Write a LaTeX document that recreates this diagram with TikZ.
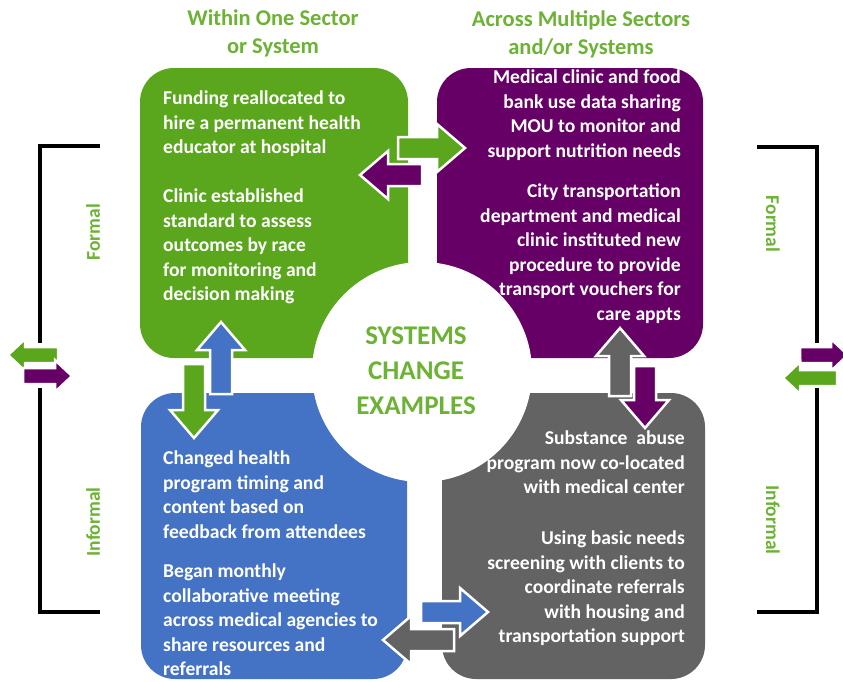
\documentclass[tikz,border=0pt]{standalone}
\usepackage{fontspec}
\setmainfont{Carlito}
\usepackage{xcolor}
\usepackage{tikz}

\definecolor{withingreen}{RGB}{90,166,29}
\definecolor{acrosspurple}{RGB}{102,0,102}
\definecolor{informalblue}{RGB}{68,114,196}
\definecolor{informalgray}{RGB}{99,99,99}
\definecolor{labelgreen}{RGB}{108,178,52}

\newcommand{\boxfont}{\fontsize{19.6}{24.5}\selectfont\bfseries}
\newcommand{\headfont}{\fontsize{22.5}{28}\selectfont\bfseries}
\newcommand{\sidefont}{\fontsize{19.5}{24}\selectfont\bfseries}
\newcommand{\hubfont}{\fontsize{27}{35}\selectfont\bfseries}

% block arrow: tail x, tail y, angle, length, shaft half, head half, head length, colour
\newcommand{\blkarrow}[8]{%
  \draw[blkedge, fill=#8, shift={(#1,#2)}, rotate=#3]
    (0,-#5) -- ({#4-#7},-#5) -- ({#4-#7},-#6) -- (#4,0)
    -- ({#4-#7},#6) -- ({#4-#7},#5) -- (0,#5) -- cycle;}

\begin{document}
\begin{tikzpicture}[x=1pt, y=-1pt,
    box/.style={rounded corners=34pt, inner sep=0pt},
    boxtext/.style={text=white, font=\boxfont, inner sep=0pt},
    label/.style={text=labelgreen, font=\headfont, inner sep=0pt},
    sidelabel/.style={text=labelgreen, font=\sidefont, inner sep=0pt},
    bracket/.style={line width=4.5pt},
    blkedge/.style={draw=white, line width=2.5pt, line join=miter}]
  \useasboundingbox (0,0) rectangle (843,681);

  % Column headers
  \node[label, align=center, anchor=north] (headwithin) at (273,10) {Within One Sector\\or System};
  \node[label, align=center, anchor=north] (headacross) at (581,10) {Across Multiple Sectors\\and/or Systems};

  % Four quadrants
  \node[box, fill=withingreen, minimum width=268pt, minimum height=290pt] (within) at (274,213) {};
  \node[box, fill=acrosspurple, minimum width=266pt, minimum height=290pt] (across) at (570,213) {};
  \node[box, fill=informalblue, minimum width=266pt, minimum height=286pt] (inwithin) at (274,536) {};
  \node[box, fill=informalgray, minimum width=263pt, minimum height=286pt] (inacross) at (573.5,536) {};

  % Centre
  \node[circle, fill=white, minimum size=220pt, inner sep=0pt] (hub) at (422,372) {};
  \node[text=labelgreen, font=\hubfont, align=center, inner sep=0pt] (hubtext) at (416,371) {SYSTEMS\\CHANGE\\EXAMPLES};

  % Examples
  \node[boxtext, align=left, anchor=north west] (within1) at (163,91) {Funding reallocated to\\hire a permanent health\\educator at hospital};
  \node[boxtext, align=left, anchor=north west] (within2) at (163,189) {Clinic established\\standard to assess\\outcomes by race\\for monitoring and\\decision making};
  \node[boxtext, align=right, anchor=north east] (across1) at (681,70) {Medical clinic and food\\bank use data sharing\\MOU to monitor and\\support nutrition needs};
  \node[boxtext, align=right, anchor=north east] (across2) at (681,184) {City transportation\\department and medical\\clinic instituted new\\procedure to provide\\transport vouchers for\\care appts};
  \node[boxtext, align=left, anchor=north west] (inwithin1) at (163,451) {Changed health\\program timing and\\content based on\\feedback from attendees};
  \node[boxtext, align=left, anchor=north west] (inwithin2) at (163,564) {Began monthly\\collaborative meeting\\across medical agencies to\\share resources and\\referrals};
  \node[boxtext, align=right, anchor=north east] (inacross1) at (685,431) {Substance~ abuse\\program now co-located\\with medical center};
  \node[boxtext, align=right, anchor=north east] (inacross2) at (685,531) {Using basic needs\\screening with clients to\\coordinate referrals\\with housing and\\transportation support};

  % Arrows between quadrants
  \blkarrow{398}{148}{0}{67}{11}{24}{28}{withingreen}
  \blkarrow{422}{175}{180}{62}{11}{24}{28}{acrosspurple}
  \blkarrow{221}{394}{90}{72}{11}{24}{28}{informalblue}
  \blkarrow{194}{364}{270}{74}{11}{24}{28}{withingreen}
  \blkarrow{620}{396}{90}{68}{11}{24}{28}{informalgray}
  \blkarrow{645}{366}{270}{62}{11}{24}{28}{acrosspurple}
  \blkarrow{421}{612}{0}{67}{11}{24}{28}{informalblue}
  \blkarrow{454}{640}{180}{71}{11}{24}{28}{informalgray}

  % Formal / Informal brackets
  \draw[bracket] (100,146) -- (40,146) -- (40,343);
  \draw[bracket] (40,388) -- (40,612) -- (100,612);
  \draw[bracket] (757,147) -- (817,147) -- (817,343);
  \draw[bracket] (817,388) -- (817,612) -- (757,612);
  \node[sidelabel, rotate=90] (formalleft) at (93,232) {Formal};
  \node[sidelabel, rotate=90] (informalleft) at (93,522) {Informal};
  \node[sidelabel, rotate=-90] (formalright) at (773,224) {Formal};
  \node[sidelabel, rotate=-90] (informalright) at (773,520) {Informal};

  % Side arrows
  \blkarrow{58}{355}{180}{50}{8}{16}{17}{withingreen}
  \blkarrow{23}{376}{0}{49}{8}{16}{17}{acrosspurple}
  \blkarrow{800}{355}{0}{48}{8}{16}{17}{acrosspurple}
  \blkarrow{837}{378}{180}{54}{8}{16}{17}{withingreen}
\end{tikzpicture}
\end{document}
